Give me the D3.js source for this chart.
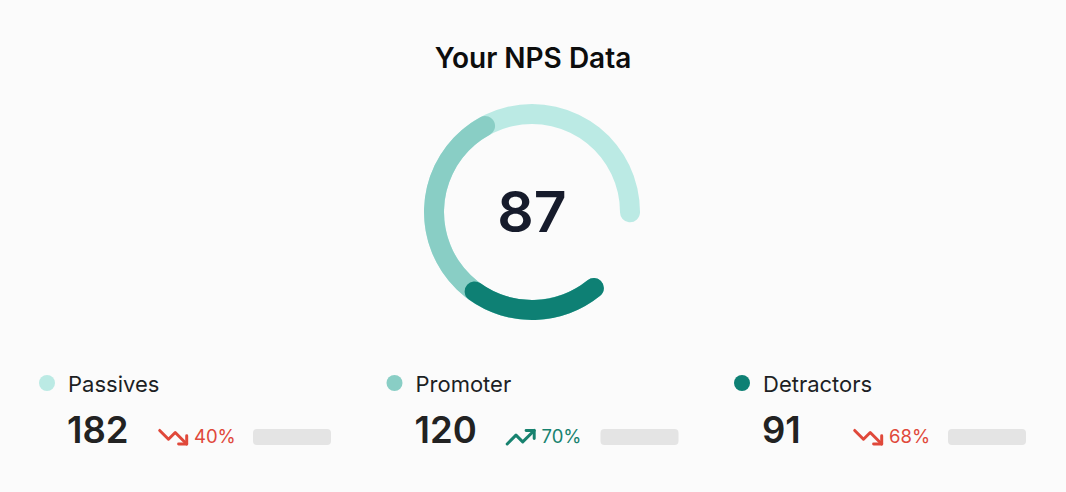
<!DOCTYPE html>
<html lang="en">
<head>
    <meta charset="UTF-8">
    <title>Your NPS Data</title>
    <script src="https://d3js.org/d3.v7.min.js"></script>
    <style>
        body {
            margin: 0;
            background-color: #fbfbfb;
            font-family: "Inter", "Noto Sans", sans-serif;
        }
        svg { display: block; }
    </style>
</head>
<body>
<svg width="1066" height="492"></svg>
<script>
    // data
    const categories = ["Passives", "Promoter", "Detractors"];
    const counts = [182, 120, 91];
    const changes = [40, 70, 68];
    const trends = ["down", "up", "down"];
    // share of the gauge sweep each segment takes (percent)
    const gaugeShare = [37, 36, 27];
    const npsScore = 87;

    const colors = ["#bbeae4", "#89cec5", "#0e8074"];
    const trendColor = { down: "#e0483a", up: "#17826f" };

    let svg = d3.select("svg");
    let width = 1066;

    svg.append("text")
        .attr("x", 533)
        .attr("y", 68)
        .attr("text-anchor", "middle")
        .attr("font-size", "28px")
        .attr("font-weight", 600)
        .attr("fill", "#0d0d0d")
        .text("Your NPS Data");

    // gauge
    let cx = 532, cy = 212;
    let deg = Math.PI / 180;
    let angle = d3.scaleLinear()
        .domain([0, 100])
        .range([135 * deg, 456 * deg]);

    // stacked from the gap: detractors, promoter, passives
    let order = [2, 1, 0];
    let cum = 0;
    let segs = order.map(i => {
        cum += gaugeShare[i];
        return { i: i, end: cum };
    });

    let arc = d3.arc()
        .innerRadius(88)
        .outerRadius(108)
        .cornerRadius(10)
        .startAngle(angle(0))
        .endAngle(d => angle(d.end));

    let gauge = svg.append("g")
        .attr("transform", `translate(${cx},${cy})`);

    gauge.selectAll("path")
        .data(segs.slice().reverse())
        .enter().append("path")
        .attr("d", arc)
        .attr("fill", d => colors[d.i]);

    gauge.append("text")
        .attr("y", 20)
        .attr("text-anchor", "middle")
        .attr("font-size", "57px")
        .attr("font-weight", 600)
        .attr("fill", "#161b2b")
        .text(npsScore);

    // legend / stats row
    let colX = d3.scalePoint()
        .domain(categories)
        .range([47, 742]);

    let items = svg.selectAll("g.item")
        .data(categories)
        .enter().append("g")
        .attr("class", "item")
        .attr("transform", d => `translate(${colX(d)},0)`);

    items.append("circle")
        .attr("cx", 0)
        .attr("cy", 383)
        .attr("r", 8)
        .attr("fill", (d, i) => colors[i]);

    items.append("text")
        .attr("x", 21)
        .attr("y", 392)
        .attr("font-size", "22px")
        .attr("fill", "#1d1f24")
        .text(d => d);

    items.append("text")
        .attr("x", 20)
        .attr("y", 443)
        .attr("font-size", "36.5px")
        .attr("font-weight", 600)
        .attr("fill", "#222")
        .text((d, i) => counts[i]);

    let icons = {
        down: ["M2 7 L8.5 13.5 L13.5 8.5 L22 17", "M16 17 L22 17 L22 11"],
        up: ["M2 17 L8.5 10.5 L13.5 15.5 L22 7", "M16 7 L22 7 L22 13"]
    };

    let icon = items.append("g")
        .attr("transform", "translate(110,421) scale(1.35)");

    icon.each(function(d, i) {
        let g = d3.select(this);
        icons[trends[i]].forEach(p => {
            g.append("path")
                .attr("d", p)
                .attr("fill", "none")
                .attr("stroke", trendColor[trends[i]])
                .attr("stroke-width", 2.2)
                .attr("stroke-linecap", "round")
                .attr("stroke-linejoin", "round");
        });
    });

    items.append("text")
        .attr("x", 147)
        .attr("y", 443)
        .attr("font-size", "18.5px")
        .attr("fill", (d, i) => trendColor[trends[i]])
        .text((d, i) => changes[i] + "%");

    items.append("rect")
        .attr("x", 206)
        .attr("y", 429)
        .attr("width", 78)
        .attr("height", 16)
        .attr("rx", 4)
        .attr("fill", "#e4e4e4");
</script>
</body>
</html>
